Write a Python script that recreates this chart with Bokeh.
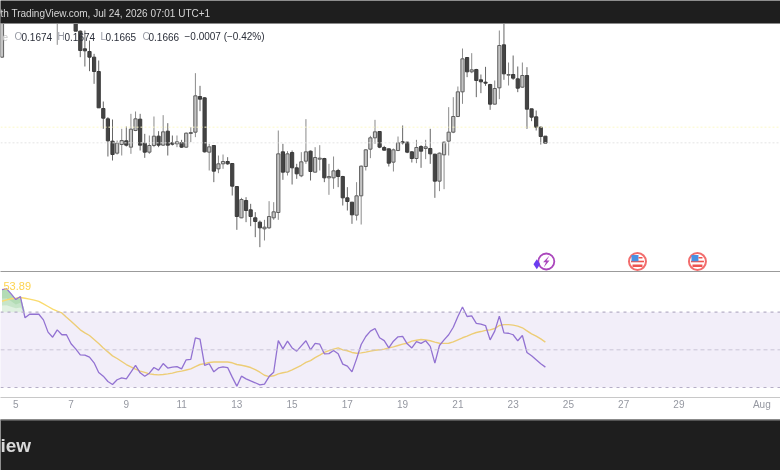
import numpy as np
from bokeh.embed import file_html
from bokeh.resources import INLINE
from bokeh.layouts import column
from bokeh.models import (BoxAnnotation, FixedTicker, Label, LinearAxis, Range1d, Span)
from bokeh.plotting import figure

nan = float("nan")
# 4-hour candles, July 2026 (the first visible candle is July 4, 12:00). Candles above the pane are unknown.
open_ = [.17688] + [nan]*11 + [.18108] + [nan]*3 + [
 .18208,.18000,.17788,.17756,.17688,.17516,.17072,.16948,.16680,.16536,
 .16640,.16684,.16608,.16808,.16944,.16656,.16548,.16628,.16740,.16632,
 .16800,.16660,.16648,.16664,.16608,.16772,.16788,.17216,.17200,.16548,
 .16628,.16348,.16408,.16436,.16412,.16136,.15760,.15968,.15856,.15760,
 .15708,.15628,.15640,.15760,.15824,.16552,.16308,.16544,.16360,.16264,
 .16440,.16560,.16308,.16464,.16472,.16240,.16240,.16328,.16256,.16000,
 .15948,.15792,.16024,.16376,.16584,.16720,.16796,.16604,.16588,.16428,
 .16568,.16672,.16668,.16552,.16472,.16616,.16592,.16592,.16524,.16200,
 .16516,.16680,.16788,.16976,.17272,.17684,.17512,.17540,.17416,.17388,
 .17360,.17124,.17320,.17836,.17472,.17480,.17428,.17328,.17468,.17068,
 .16972,.16848,.16740]
close = [.18208] + [nan]*11 + [.18188] + [nan]*3 + [
 .18000,.17768,.17764,.17688,.17516,.17080,.16956,.16684,.16520,.16656,
 .16688,.16632,.16824,.16948,.16632,.16548,.16628,.16740,.16632,.16792,
 .16632,.16644,.16672,.16608,.16776,.16784,.17224,.17184,.16552,.16612,
 .16320,.16408,.16436,.16408,.16140,.15776,.15980,.15848,.15776,.15716,
 .15640,.15648,.15776,.15832,.16528,.16308,.16528,.16360,.16288,.16432,
 .16552,.16316,.16484,.16476,.16240,.16256,.16324,.16256,.16000,.15956,
 .15796,.16024,.16380,.16576,.16720,.16792,.16608,.16572,.16416,.16576,
 .16660,.16660,.16548,.16472,.16604,.16560,.16612,.16528,.16200,.16536,
 .16668,.16788,.16976,.17272,.17668,.17512,.17536,.17408,.17392,.17376,
 .17124,.17312,.17828,.17488,.17480,.17436,.17316,.17468,.17064,.16968,
 .16848,.16736,.16656]
high = [.18208] + [nan]*11 + [.18208] + [nan]*3 + [
 .18208,.18008,.18008,.17888,.17728,.17648,.17156,.16968,.16940,.16688,
 .16828,.16856,.17008,.17036,.17008,.16768,.16748,.16976,.16800,.16992,
 .16896,.16748,.16748,.16696,.16784,.16848,.17496,.17344,.17208,.16648,
 .16628,.16508,.16520,.16488,.16412,.16136,.16000,.16008,.15928,.15828,
 .15728,.15736,.15960,.15948,.16808,.16648,.16560,.16568,.16408,.16548,
 .16944,.16568,.16608,.16632,.16480,.16408,.16496,.16348,.16264,.16128,
 .15948,.16188,.16388,.16584,.16744,.16936,.16800,.16624,.16592,.16592,
 .16736,.16868,.16672,.16560,.16696,.16632,.16696,.16828,.16528,.16544,
 .16676,.17088,.17208,.17336,.17792,.17688,.17736,.17548,.17480,.17572,
 .17368,.17408,.18008,.18208,.17624,.17708,.17576,.17624,.17568,.17068,
 .17048,.16856,.16740]
low = [.17680] + [nan]*11 + [.17836] + [nan]*3 + [
 .18000,.17688,.17576,.17520,.17368,.17080,.16828,.16496,.16448,.16520,
 .16508,.16616,.16528,.16800,.16568,.16480,.16528,.16608,.16608,.16624,
 .16508,.16628,.16608,.16600,.16600,.16668,.16728,.17040,.16544,.16328,
 .16188,.16296,.16348,.16396,.16028,.15616,.15756,.15708,.15660,.15528,
 .15408,.15488,.15628,.15736,.15736,.16216,.16268,.16160,.16228,.16248,
 .16408,.16208,.16304,.16328,.16188,.16036,.16108,.16128,.15908,.15848,
 .15688,.15728,.15680,.16328,.16476,.16648,.16596,.16568,.16376,.16316,
 .16560,.16640,.16536,.16424,.16416,.16360,.16464,.16408,.16000,.16080,
 .16104,.16508,.16776,.16968,.17128,.17448,.17496,.17208,.17256,.17344,
 .17056,.17120,.17184,.17416,.17348,.17416,.17268,.17320,.16828,.16920,
 .16808,.16640,.16648]
rsi = [82.0,82.4,79.7,76.7,78.3,67.0,68.9,68.9,68.9,65.9,59.4,56.7,60.6,58.0,58.0,53.2,50.5,47.3,47.2,46.1,
 43.1,38.0,36.0,33.2,31.6,34.1,35.1,34.6,38.1,41.7,37.8,36.0,37.6,40.6,39.2,42.7,40.3,40.8,41.1,39.9,
 44.7,44.9,56.4,55.7,41.7,42.6,38.3,40.4,41.0,40.6,35.5,30.7,36.0,34.6,33.5,32.5,31.4,31.8,35.8,38.1,54.9,
 50.5,54.6,51.0,49.3,52.1,54.8,50.0,53.4,53.0,47.9,48.0,49.6,47.9,42.4,41.3,38.3,45.2,52.8,57.1,59.9,
 61.3,56.4,54.9,51.0,54.6,56.9,57.1,53.2,51.0,54.4,53.4,54.8,51.8,42.9,52.3,55.3,58.0,62.0,67.7,72.7,
 67.7,68.0,64.0,63.6,62.9,55.3,59.9,67.9,59.0,58.8,58.0,54.8,57.6,48.6,46.8,44.7,42.6,40.8]
rsi_ma = [75.8,76.5,77.1,77.4,77.8,77.4,76.9,76.4,75.7,74.4,73.0,71.6,70.5,69.6,67.3,65.2,62.9,60.6,59.0,57.6,
 55.5,53.4,51.0,48.9,46.8,45.4,43.8,42.2,41.0,39.7,38.7,38.0,37.2,36.9,36.7,36.9,37.2,37.6,38.3,38.7,
 39.3,39.9,41.1,42.2,42.7,43.3,43.5,43.5,43.5,43.5,43.1,42.2,41.8,41.3,40.6,39.5,38.1,36.5,35.8,36.2,37.2,
 37.8,38.3,39.3,40.6,41.8,43.3,44.3,45.9,47.2,48.6,49.6,50.4,51.0,50.0,49.5,48.6,48.2,48.4,48.8,49.3,
 49.8,50.0,50.4,51.0,51.6,52.3,53.0,53.5,54.6,55.1,55.5,55.3,54.8,54.1,53.5,53.4,53.5,54.2,55.3,56.4,
 57.3,58.3,59.2,59.7,60.3,60.6,61.3,62.9,63.4,63.4,63.1,62.6,61.7,60.1,58.5,57.3,55.8,54.1]
tick_days = [5, 7, 9, 11, 13, 15, 17, 19, 21, 23, 25, 27, 29, 32]
tick_labels = ["5", "7", "9", "11", "13", "15", "17", "19", "21", "23", "25", "27", "29", "Aug"]
price_levels = [.16848, .16660]
flag_days = [27.5, 29.67]
bolt_day = 24.2
event_price = .15236
header_text = "th TradingView.com, Jul 24, 2026 07:01 UTC+1"
ohlc_parts = [("O", 14, "#9a9da6"), ("0.1674", 21, "#2a2e39"), ("H", 57, "#9a9da6"), ("0.1674", 64, "#2a2e39"),
              ("L", 100, "#9a9da6"), ("0.1665", 105, "#2a2e39"), ("C", 142, "#9a9da6"), ("0.1666", 148, "#2a2e39"),
              ("\u22120.0007 (\u22120.42%)", 184, "#2a2e39")]

assert all(len(a) == 119 for a in (open_, close, high, low, rsi, rsi_ma))
days = 4.5 + np.arange(119) / 6
X = Range1d(4.446, 32.676)
W, H_TOP, H_RSI, H_FOOT = 780, 272, 147, 51
RSI_FRAME = 124
DARK = "#1e1e1e"
PX_X, PX_Y = 1 / 27.63, .00012
FONT = "Liberation Sans"

top = figure(width=W, height=H_TOP, x_range=X, y_range=Range1d(.15104, .18368), x_axis_type=None, y_axis_type=None,
             toolbar_location=None, output_backend="svg", min_border=0, outline_line_color=None)
top.grid.visible = False
for lvl, col in zip(price_levels, ["#fbf8c8", "#e4e4e4"]):
    top.add_layout(Span(location=lvl, dimension="width", line_color=col, line_dash="2 2", line_width=1))

o, c, h, l = map(np.array, (open_, close, high, low))
up = c >= o
top.segment(x0=days[up], x1=days[up], y0=h[up], y1=l[up], line_color="#8a8a8a", line_width=1)
top.segment(x0=days[~up], x1=days[~up], y0=h[~up], y1=l[~up], line_color="#666666", line_width=1)
bw = 3.2 * PX_X
top.vbar(x=days[up], width=bw, bottom=o[up], top=c[up], fill_color="#c4c4c4", line_color="#5f5f5f", line_width=1)
top.vbar(x=days[~up], width=bw, bottom=c[~up], top=o[~up], fill_color="#444444", line_color="#3a3a3a", line_width=1)

# events on the timeline
top.scatter(x=flag_days, y=[event_price]*2, size=17, marker="circle", fill_color="white", line_color="#f26d6d", line_width=2)
for d in flag_days:
    top.quad(left=d-6.5*PX_X, right=d+6.5*PX_X, bottom=event_price-0.8*PX_Y, top=event_price+0.8*PX_Y, fill_color="#ef5350", line_color=None)
    top.quad(left=d-5*PX_X, right=d+5*PX_X, bottom=event_price-5.5*PX_Y, top=event_price-3*PX_Y, fill_color="#ef5350", line_color=None)
    top.quad(left=d-6*PX_X, right=d+1*PX_X, bottom=event_price+0.2*PX_Y, top=event_price+6.5*PX_Y, fill_color="#4a90e2", line_color=None)
    top.quad(left=d+1*PX_X, right=d+5*PX_X, bottom=event_price+3*PX_Y, top=event_price+4.5*PX_Y, fill_color="#ef5350", line_color=None)
top.scatter(x=[bolt_day], y=[event_price], size=16, marker="circle", fill_color="white", line_color="#ab47bc", line_width=1.8)
top.patch(x=[bolt_day+3.2*PX_X, bolt_day-3.2*PX_X, bolt_day-.3*PX_X, bolt_day-2.6*PX_X, bolt_day+3.2*PX_X, bolt_day+.3*PX_X, bolt_day+3.2*PX_X],
          y=[event_price+6*PX_Y, event_price-0.8*PX_Y, event_price-0.8*PX_Y, event_price-6*PX_Y, event_price+1*PX_Y, event_price+1*PX_Y, event_price+6*PX_Y],
          fill_color="#ab47bc", line_color=None)
top.scatter(x=[bolt_day-9.5*PX_X], y=[event_price-2.8*PX_Y], size=10, marker="diamond", fill_color="#6a3df0", line_color=None)

def band(fig, height, y0, y1, color):
    # y0, y1: distance from the top of the figure; Bokeh's screen y runs up from the bottom
    fig.add_layout(BoxAnnotation(left=-5, right=W + 5, left_units="screen", right_units="screen",
                                 top=height - y0, bottom=height - y1, top_units="screen", bottom_units="screen",
                                 fill_color=color, fill_alpha=1, line_color=None))

band(top, H_TOP, -2, 22.5, DARK)
band(top, H_TOP, 22.5, 23.5, "#8a8a8a")
band(top, H_TOP, 270.8, 272.5, "#7a7a7a")

def label(fig, text, x, y, height, size, color, **kw):
    # height: the plot frame's height, from which screen y is measured
    fig.add_layout(Label(x=x, y=height - y, x_units="screen", y_units="screen", text=text, text_font=FONT,
                         text_font_size=size, text_color=color, text_baseline="middle", **kw))

label(top, header_text, 0, 12.5, H_TOP, "10px", "#d6d6d6")
label(top, "e", 2, 36, H_TOP, "10px", "#c8c8c8")
for txt, x, col in ohlc_parts:
    label(top, txt, x, 36, H_TOP, "10px", col)

low_fig = figure(width=W, height=H_RSI, x_range=X, y_range=Range1d(24.68, 90.53), x_axis_type=None, y_axis_type=None,
                 toolbar_location=None, output_backend="svg", min_border=0, min_border_top=1, min_border_bottom=22,
                 outline_line_color=None)
low_fig.grid.visible = False
low_fig.add_layout(BoxAnnotation(left=X.start - 1, right=X.end + 1, bottom=30, top=70, fill_color="#7e57c2", fill_alpha=.1, line_color=None))
for lvl, dash, lw, col in [(70, "3 4", 1.2, "#b5aec6"), (50, "4 3", 1, "#c9c4d6"), (30, "3 4", 1.2, "#b5aec6")]:
    low_fig.add_layout(Span(location=lvl, dimension="width", line_color=col, line_dash=dash, line_width=lw))
r = np.array(rsi)
above = np.maximum(r, 70)
for f in (0, .3, .6):
    low_fig.varea(x=days[:7], y1=70 + f * (above[:7] - 70), y2=above[:7], fill_color="#66bb6a", fill_alpha=.2)
low_fig.line(days, rsi_ma, line_color="#fadb6e", line_width=1.4)
low_fig.line(days, rsi, line_color="#9575d4", line_width=1.3)
label(low_fig, "53.89", 3, 12, RSI_FRAME, "11px", "#fdd34f")

ax = LinearAxis(ticker=FixedTicker(ticks=tick_days), major_label_overrides=dict(zip(tick_days, tick_labels)),
                axis_line_color="#c8c8c8", axis_line_width=1.2, major_tick_line_color=None, minor_tick_line_color=None,
                major_label_text_color="#9598a1", major_label_text_font_size="10px", major_label_text_font=FONT,
                major_tick_in=0, major_tick_out=0, major_label_standoff=1)
low_fig.add_layout(ax, "below")

foot = figure(width=W, height=H_FOOT, x_range=X, y_range=Range1d(0, 1), x_axis_type=None, y_axis_type=None,
              toolbar_location=None, output_backend="svg", min_border=0, outline_line_color=None,
              background_fill_color=DARK, border_fill_color=DARK)
foot.grid.visible = False
band(foot, H_FOOT, -1, 1, "#8a8a8a")
label(foot, "iew", 0, 26, H_FOOT, "19px", "#d9d9d9", text_font_style="bold")

page = column(top, low_fig, foot, spacing=0)
page.styles = {"position": "fixed", "left": "0", "top": "0"}
open("out.html", "w").write(file_html(page, INLINE))
